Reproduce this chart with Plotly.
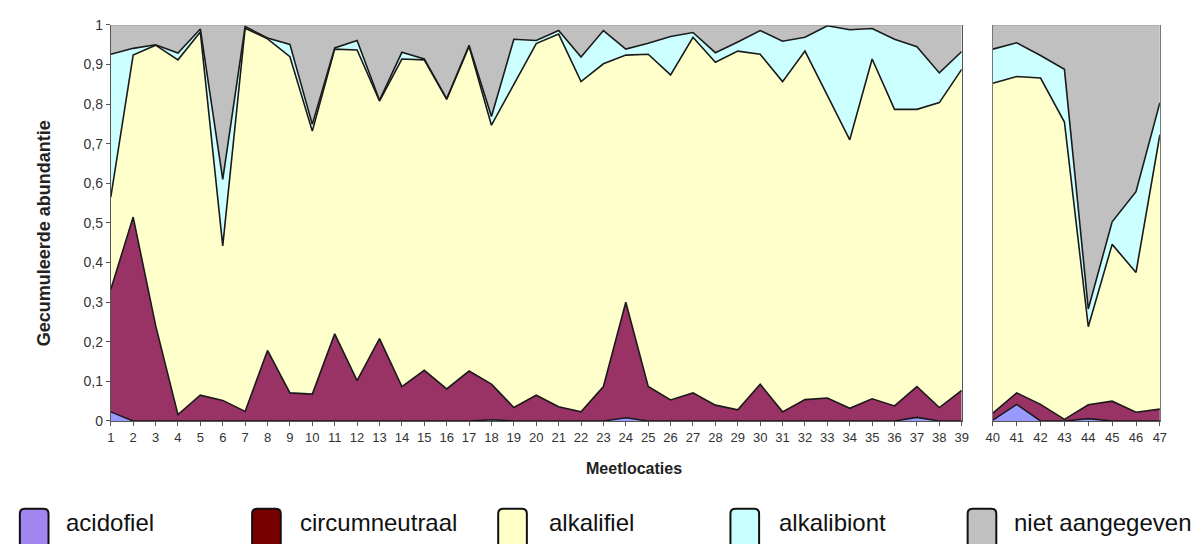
import plotly.graph_objects as go

# ---------------- data ----------------
locations = list(range(1, 48))
split_at = 39  # panel 1: locations 1..39, panel 2: 40..47

acidofiel = [0.023, 0, 0, 0, 0, 0, 0, 0, 0, 0, 0, 0, 0, 0, 0, 0, 0, 0.003, 0, 0,
             0, 0, 0, 0.008, 0, 0, 0, 0, 0, 0, 0, 0, 0, 0, 0, 0, 0.009, 0, 0,
             0.002, 0.042, 0, 0, 0.006, 0, 0, 0]
circumneutraal = [0.309, 0.515, 0.242, 0.016, 0.065, 0.052, 0.024, 0.178, 0.071, 0.068,
                  0.220, 0.102, 0.208, 0.087, 0.128, 0.081, 0.126, 0.090, 0.034, 0.065,
                  0.036, 0.023, 0.087, 0.292, 0.087, 0.053, 0.071, 0.040, 0.028, 0.093,
                  0.023, 0.054, 0.058, 0.032, 0.056, 0.038, 0.078, 0.034, 0.077,
                  0.018, 0.029, 0.042, 0.004, 0.035, 0.050, 0.022, 0.030]
alkalifiel = [0.233, 0.409, 0.707, 0.896, 0.917, 0.390, 0.968, 0.787, 0.849, 0.664,
              0.719, 0.835, 0.600, 0.827, 0.784, 0.731, 0.820, 0.654, 0.816, 0.888,
              0.941, 0.834, 0.815, 0.624, 0.839, 0.821, 0.898, 0.866, 0.906, 0.833,
              0.834, 0.880, 0.764, 0.678, 0.858, 0.749, 0.700, 0.770, 0.811,
              0.833, 0.799, 0.824, 0.751, 0.197, 0.396, 0.353, 0.693]
alkalibiont = [0.361, 0.017, 0.001, 0.017, 0.008, 0.168, 0.004, 0.002, 0.031, 0.017,
               0.003, 0.024, 0.002, 0.017, 0.002, 0.002, 0.003, 0.022, 0.114, 0.008,
               0.009, 0.062, 0.084, 0.015, 0.028, 0.097, 0.012, 0.024, 0.023, 0.060,
               0.102, 0.035, 0.176, 0.278, 0.077, 0.177, 0.158, 0.075, 0.045,
               0.086, 0.085, 0.057, 0.133, 0.045, 0.057, 0.204, 0.081]
niet_aangegeven = [0.074, 0.059, 0.050, 0.071, 0.010, 0.390, 0.004, 0.033, 0.049, 0.251,
                   0.058, 0.039, 0.190, 0.069, 0.086, 0.186, 0.051, 0.231, 0.036, 0.039,
                   0.014, 0.081, 0.014, 0.061, 0.046, 0.029, 0.019, 0.070, 0.043, 0.014,
                   0.041, 0.031, 0.002, 0.012, 0.009, 0.036, 0.055, 0.121, 0.067,
                   0.061, 0.045, 0.077, 0.112, 0.717, 0.497, 0.421, 0.196]

series_names = ["acidofiel", "circumneutraal", "alkalifiel", "alkalibiont", "niet aangegeven"]
series_values = [acidofiel, circumneutraal, alkalifiel, alkalibiont, niet_aangegeven]
fill_colors = ["#9999ff", "#993366", "#ffffcc", "#ccffff", "#c0c0c0"]
legend_colors = ["#a385f0", "#780000", "#ffffc8", "#c8ffff", "#c0c0c0"]
line_colors = ["#1a1a1a", "#1a1a1a", "#1a1a1a", "#1a1a1a", "#9a9a9a"]

y_tickvals = [i / 10 for i in range(11)]
y_ticktext = ["0", "0,1", "0,2", "0,3", "0,4", "0,5", "0,6", "0,7", "0,8", "0,9", "1"]

W, H = 1198, 544
FONT = "Arial, 'Liberation Sans', sans-serif"

fig = go.Figure()
panels = [(0, split_at, "x", "y", "g1"), (split_at, len(locations), "x2", "y2", "g2")]
for a, b, xa, ya, grp in panels:
    for name, vals, fc, lc in zip(series_names, series_values, fill_colors, line_colors):
        fig.add_trace(go.Scatter(
            x=locations[a:b], y=vals[a:b], name=name, mode="lines",
            stackgroup=grp, fillcolor=fc,
            line=dict(color=lc, width=1.6 if lc != "#9a9a9a" else 1),
            xaxis=xa, yaxis=ya, showlegend=False, hoverinfo="x+y+name"))

def px_x(p):
    return p / W

def px_y(p):
    return (H - p) / H

ydom = [px_y(425.5), px_y(17.5)]
tickfont = dict(family=FONT, size=13, color="#333333")

fig.update_layout(
    width=W, height=H, autosize=False, margin=dict(l=0, r=0, t=0, b=0),
    paper_bgcolor="white", plot_bgcolor="white",
    font=dict(family=FONT, color="#222222"),
    xaxis=dict(domain=[px_x(105), px_x(966)], range=[1, 39], tickvals=locations[:split_at],
               ticks="outside", ticklen=4, tickcolor="#555", tickfont=tickfont,
               showline=True, linecolor="#555", linewidth=1, showgrid=False, zeroline=False),
    yaxis=dict(domain=ydom, range=[0, 1], tickvals=y_tickvals, ticktext=y_ticktext,
               ticks="outside", ticklen=4, tickcolor="#555",
               tickfont=dict(family=FONT, size=14, color="#333333"),
               showline=True, linecolor="#555", linewidth=1, mirror=True,
               showgrid=False, zeroline=False),
    xaxis2=dict(domain=[px_x(997.5), px_x(1166.5)], range=[40, 47], tickvals=locations[split_at:],
                ticks="outside", ticklen=4, tickcolor="#555", tickfont=tickfont, anchor="y2",
                showline=True, linecolor="#555", linewidth=1, showgrid=False, zeroline=False),
    yaxis2=dict(domain=ydom, range=[0, 1], anchor="x2", showticklabels=False, ticks="",
                showline=True, linecolor="#777", linewidth=1, mirror=True,
                showgrid=False, zeroline=False),
)

annotations = [
    dict(text="<b>Meetlocaties</b>", x=px_x(634), y=px_y(474), xref="paper", yref="paper",
         showarrow=False, font=dict(family=FONT, size=16, color="#222"),
         xanchor="center", yanchor="middle"),
    dict(text="<b>Gecumuleerde abundantie</b>", x=px_x(37.5), y=px_y(232), xref="paper",
         yref="paper", showarrow=False, textangle=-90,
         font=dict(family=FONT, size=18, color="#222"), xanchor="center", yanchor="middle"),
]

# custom legend (rounded boxes + labels)
box_left = [13, 248, 497, 732, 972]
text_left = [58, 294, 546, 779, 1017]
shapes = []
for name, col, bx, tx in zip(series_names, legend_colors, box_left, text_left):
    x0, x1 = bx, bx + 29
    y0, y1 = 516, 560
    r = 5
    path = (f"M {px_x(x0 + r)},{px_y(y0)} L {px_x(x1 - r)},{px_y(y0)} "
            f"Q {px_x(x1)},{px_y(y0)} {px_x(x1)},{px_y(y0 + r)} "
            f"L {px_x(x1)},{px_y(y1 - r)} Q {px_x(x1)},{px_y(y1)} {px_x(x1 - r)},{px_y(y1)} "
            f"L {px_x(x0 + r)},{px_y(y1)} Q {px_x(x0)},{px_y(y1)} {px_x(x0)},{px_y(y1 - r)} "
            f"L {px_x(x0)},{px_y(y0 + r)} Q {px_x(x0)},{px_y(y0)} {px_x(x0 + r)},{px_y(y0)} Z")
    shapes.append(dict(type="path", path=path, xref="paper", yref="paper",
                       fillcolor=col, line=dict(color="#111", width=2)))
    annotations.append(dict(text=name, x=px_x(tx), y=px_y(530), xref="paper", yref="paper",
                            showarrow=False, xanchor="left", yanchor="middle",
                            font=dict(family=FONT, size=24, color="#111")))

fig.update_layout(annotations=annotations, shapes=shapes)

post = ("document.documentElement.style.margin='0';"
        "document.body.style.margin='0';document.body.style.padding='0';"
        "document.body.style.overflow='hidden';"
        "var gd=document.getElementById('{plot_id}');"
        "gd.style.width='1198px';gd.style.height='544px';")

fig.write_html("out.html", config={"displayModeBar": False, "responsive": False},
               post_script=post)
